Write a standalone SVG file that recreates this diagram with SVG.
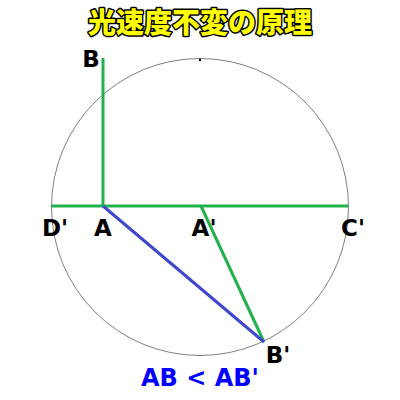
<svg xmlns="http://www.w3.org/2000/svg" width="400" height="400" viewBox="0 0 400 400">
<style>
.lbl{font-family:"DejaVu Sans","Liberation Sans",sans-serif;font-weight:bold;font-size:23px;fill:#000;text-anchor:middle}
.g{stroke:#22b14c;stroke-width:3;fill:none}
.b{stroke:#3f48cc;stroke-width:3;fill:none}
</style>
<rect width="400" height="400" fill="#fff"/>
<text x="200" y="33" text-anchor="middle" font-family="'Noto Sans CJK JP',sans-serif" font-weight="900" font-size="28" fill="#ffff00" stroke="#000" stroke-width="3" stroke-linejoin="round" paint-order="stroke">光速度不変の原理</text>
<g id="circle"><circle cx="200" cy="207" r="148.5" fill="none" stroke="#808080" stroke-width="1"/>
<circle cx="200" cy="60" r="1.2" fill="#000"/></g>
<g id="connectors">
<line class="g" x1="51" y1="206" x2="348" y2="206"/>
<line class="g" x1="103" y1="206" x2="103" y2="58"/>
<line class="g" x1="201" y1="206" x2="264" y2="342"/>
<line class="b" x1="103" y1="206" x2="264" y2="342"/>
</g>
<g id="B"><text class="lbl" x="91" y="67">B</text></g>
<g id="Dp"><text class="lbl" x="55" y="236">D'</text></g>
<g id="A"><text class="lbl" x="103" y="236">A</text></g>
<g id="Ap"><text class="lbl" x="204" y="236">A'</text></g>
<g id="Cp"><text class="lbl" x="353" y="236">C'</text></g>
<g id="Bp"><text class="lbl" x="278" y="363">B'</text></g>
<text x="200" y="386" text-anchor="middle" font-family="'DejaVu Sans','Liberation Sans',sans-serif" font-weight="bold" font-size="24" fill="#0000ff">AB &lt; AB'</text>
</svg>
